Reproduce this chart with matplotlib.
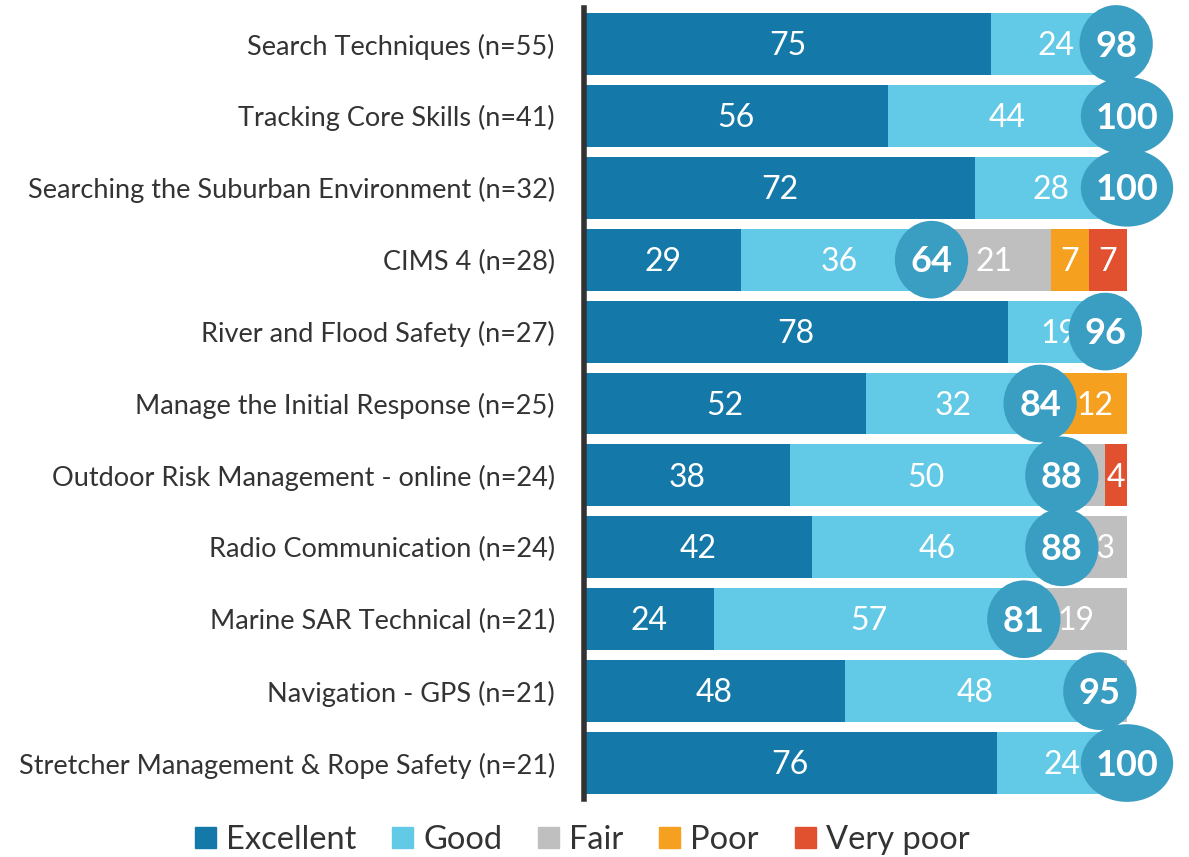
import numpy as np
from matplotlib import pyplot as plt
from matplotlib.patches import Patch, Ellipse

plt.rcParams['font.family'] = ['Lato', 'DejaVu Sans']

# 데이터 (위에서 아래 순서)
courses = ['Search Techniques (n=55)', 'Tracking Core Skills (n=41)',
           'Searching the Suburban Environment (n=32)', 'CIMS 4 (n=28)',
           'River and Flood Safety (n=27)', 'Manage the Initial Response (n=25)',
           'Outdoor Risk Management - online (n=24)', 'Radio Communication (n=24)',
           'Marine SAR Technical (n=21)', 'Navigation - GPS (n=21)',
           'Stretcher Management & Rope Safety (n=21)']
excellent = [75, 56, 72, 29, 78, 52, 38, 42, 24, 48, 76]
good = [24, 44, 28, 36, 19, 32, 50, 46, 57, 48, 24]
fair = [1, 0, 0, 21, 3, 4, 8, 13, 19, 5, 0]
poor = [0, 0, 0, 7, 0, 12, 0, 0, 0, 0, 0]
very_poor = [0, 0, 0, 7, 0, 0, 4, 0, 0, 0, 0]
combined = [98, 100, 100, 64, 96, 84, 88, 88, 81, 95, 100]

series = [('Excellent', excellent, '#1479a8'),
          ('Good', good, '#62c9e6'),
          ('Fair', fair, '#bfbfbf'),
          ('Poor', poor, '#f5a11f'),
          ('Very poor', very_poor, '#e2512f')]

fig = plt.figure(figsize=(11.89, 8.57), dpi=100)
ax = fig.add_axes([584 / 1189, 1 - 799 / 857, 543 / 1189, 791 / 857])

y = np.arange(len(courses))
left = np.zeros(len(courses))
for name, vals, col in series:
    vals = np.array(vals)
    ax.barh(y, vals, left=left, height=0.86, color=col, label=name, zorder=2)
    for i, v in enumerate(vals):
        if v == 0:
            continue
        if name == 'Fair' and v < 10:
            continue
        ax.text(left[i] + v / 2, y[i] + 0.03, str(v), ha='center', va='center',
                color='white', fontsize=23, zorder=3)
    left = left + vals

# 합계 원 (Excellent + Good)
for i, c in enumerate(combined):
    w = 17 if c >= 100 else 13.5
    ax.add_patch(Ellipse((c, y[i]), w, 1.08, fc='#3a9dc2', ec='none',
                         zorder=4, clip_on=False))
    ax.text(c, y[i] + 0.03, str(c), ha='center', va='center', color='white',
            fontsize=26, fontweight='bold', zorder=5, clip_on=False)

ax.set_xlim(0, 100)
ax.set_ylim(len(courses) - 0.5, -0.5)
ax.set_yticks(y)
ax.set_yticklabels(courses, fontsize=19.5, color='#333333')
ax.tick_params(axis='y', length=0, pad=21)
ax.set_xticks([])
for s in ['top', 'right', 'bottom']:
    ax.spines[s].set_visible(False)
ax.spines['left'].set_linewidth(4)
ax.spines['left'].set_color('#333333')

handles = [Patch(color=col) for _, _, col in series]
fig.legend(handles, [s[0] for s in series], loc='center', bbox_to_anchor=(582 / 1189, 1 - 840 / 857),
           ncol=5, frameon=False, fontsize=23.5, handlelength=0.65, handleheight=0.65,
           handletextpad=0.3, columnspacing=1.1, labelcolor='#333333')

plt.savefig('out.png', dpi=100)
